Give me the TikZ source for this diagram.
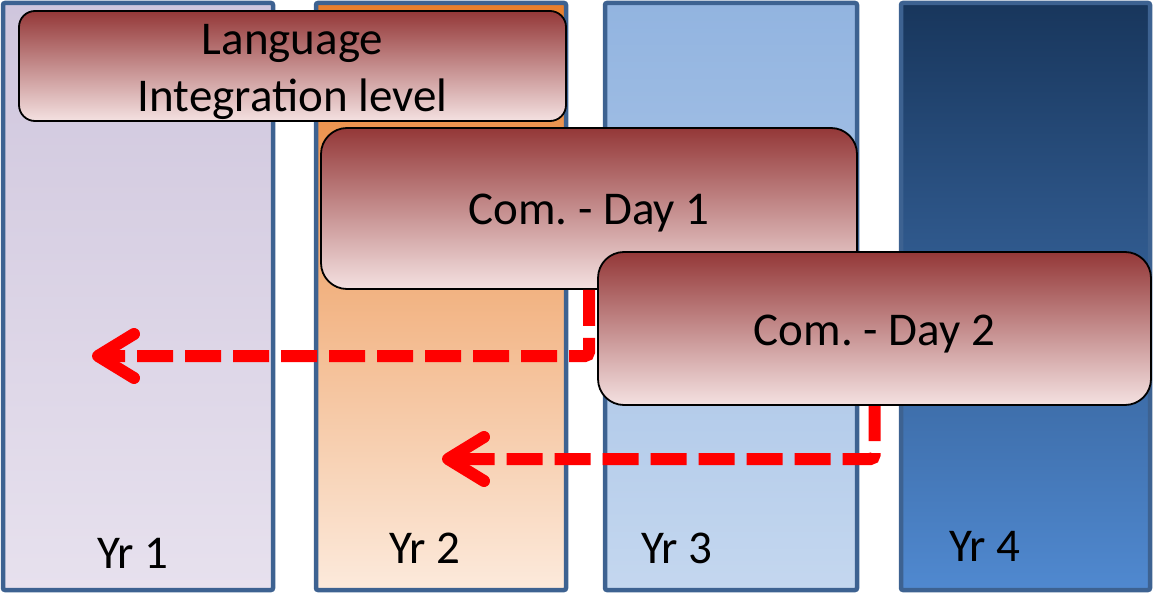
\documentclass[tikz,border=0pt]{standalone}
\usepackage{fontspec}
\setmainfont{Carlito}
\usetikzlibrary{arrows.meta}
\frenchspacing
\definecolor{colborder}{HTML}{3D6291}
\definecolor{boxtop}{HTML}{943838}
\definecolor{boxmid}{HTML}{C48888}
\definecolor{boxbot}{HTML}{F4E1E1}
\definecolor{arrred}{HTML}{FF0000}
\definecolor{c1top}{HTML}{CFC6DD}
\definecolor{c1bot}{HTML}{E7E1EE}
\definecolor{c2top}{HTML}{E87E2C}
\definecolor{c2mid}{HTML}{F0AC70}
\definecolor{c2bot}{HTML}{FCEADC}
\definecolor{c3top}{HTML}{92B4E0}
\definecolor{c3bot}{HTML}{C4D7EF}
\definecolor{c4top}{HTML}{18365C}
\definecolor{c4bot}{HTML}{5089D0}
\tikzset{
  yearcol/.style={draw=colborder, line width=4.5pt, rounded corners=2pt, minimum width=#1, minimum height=587pt, inner sep=0pt},
  eventbox/.style={draw=black, line width=1.8pt, rounded corners=20pt, top color=boxtop, middle color=boxmid, bottom color=boxbot, inner sep=0pt, align=center, font=\fontsize{47}{57}\selectfont},
  yearlabel/.style={font=\fontsize{47}{50}\selectfont, inner sep=0pt},
  movearrow/.style={draw=arrred, line width=12pt, dash pattern=on 36pt off 12pt, rounded corners=4pt, -{Straight Barb[round, length=36pt, width=44pt]}}
}
\begin{document}
\begin{tikzpicture}[x=1pt, y=-1pt]
\useasboundingbox (0,0) rectangle (1153,593);
% columns
\node[yearcol=270pt, top color=c1top, bottom color=c1bot] (c1) at (138,296.5) {};
\node[yearcol=250pt, top color=c2top, middle color=c2mid, bottom color=c2bot] (c2) at (441,296.5) {};
\node[yearcol=252pt, top color=c3top, bottom color=c3bot] (c3) at (731,296.5) {};
\node[yearcol=249pt, top color=c4top, bottom color=c4bot] (c4) at (1025.5,296.5) {};
% year labels
\node[yearlabel] (y1) at (133,553) {Yr 1};
\node[yearlabel] (y2) at (425,548) {Yr 2};
\node[yearlabel] (y3) at (677,548) {Yr 3};
\node[yearlabel] (y4) at (985,546) {Yr 4};
% event boxes
\node[eventbox, minimum width=547pt, minimum height=110pt, rounded corners=16pt, text depth=0pt] (lang) at (292.5,66) {\raisebox{-3pt}{Language}\\\raisebox{-3pt}{Integration level}};
\node[eventbox, minimum width=536pt, minimum height=161pt, rounded corners=26pt, text height=36pt, text depth=4pt] (d1) at (589,208.5) {Com. - Day 1};
% arrow targets
\coordinate (t1) at (92,356);
\coordinate (t2) at (442,459);
\coordinate (s2) at (874.5,405);
\draw[movearrow] (d1.south) |- (t1);
\draw[movearrow] (s2) |- (t2);
\node[eventbox, minimum width=553pt, minimum height=153pt, rounded corners=26pt, text height=37pt, text depth=4pt] (d2) at (874.5,328.5) {Com. - Day 2};
\end{tikzpicture}
\end{document}
